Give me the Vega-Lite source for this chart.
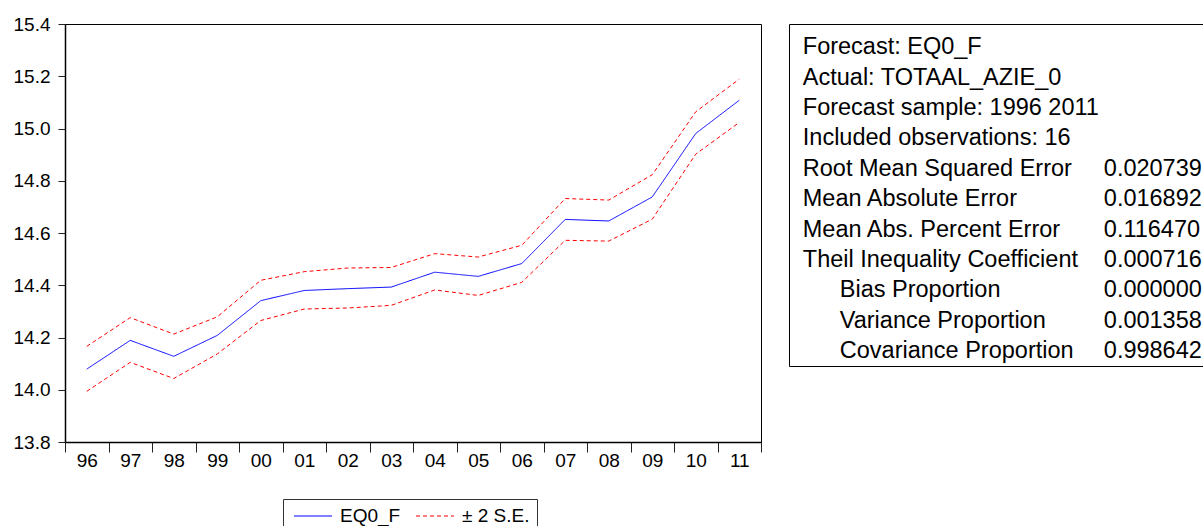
{
  "$schema": "https://vega.github.io/schema/vega-lite/v6.json",
  "padding": {"left": 12, "top": 14, "right": 0, "bottom": 0},
  "autosize": {"type": "pad"},
  "bounds": "flush",
  "spacing": 28,
  "background": "white",
  "datasets": {
    "fc": [
      {"yr": "96", "series": "EQ0_F", "band": "f", "v": 14.079},
      {"yr": "97", "series": "EQ0_F", "band": "f", "v": 14.189},
      {"yr": "98", "series": "EQ0_F", "band": "f", "v": 14.128},
      {"yr": "99", "series": "EQ0_F", "band": "f", "v": 14.208},
      {"yr": "00", "series": "EQ0_F", "band": "f", "v": 14.341},
      {"yr": "01", "series": "EQ0_F", "band": "f", "v": 14.380},
      {"yr": "02", "series": "EQ0_F", "band": "f", "v": 14.387},
      {"yr": "03", "series": "EQ0_F", "band": "f", "v": 14.393},
      {"yr": "04", "series": "EQ0_F", "band": "f", "v": 14.450},
      {"yr": "05", "series": "EQ0_F", "band": "f", "v": 14.434},
      {"yr": "06", "series": "EQ0_F", "band": "f", "v": 14.483},
      {"yr": "07", "series": "EQ0_F", "band": "f", "v": 14.652},
      {"yr": "08", "series": "EQ0_F", "band": "f", "v": 14.646},
      {"yr": "09", "series": "EQ0_F", "band": "f", "v": 14.738},
      {"yr": "10", "series": "EQ0_F", "band": "f", "v": 14.981},
      {"yr": "11", "series": "EQ0_F", "band": "f", "v": 15.108},
      {"yr": "96", "series": "± 2 S.E.", "band": "up", "v": 14.166},
      {"yr": "97", "series": "± 2 S.E.", "band": "up", "v": 14.276},
      {"yr": "98", "series": "± 2 S.E.", "band": "up", "v": 14.213},
      {"yr": "99", "series": "± 2 S.E.", "band": "up", "v": 14.279},
      {"yr": "00", "series": "± 2 S.E.", "band": "up", "v": 14.419},
      {"yr": "01", "series": "± 2 S.E.", "band": "up", "v": 14.452},
      {"yr": "02", "series": "± 2 S.E.", "band": "up", "v": 14.466},
      {"yr": "03", "series": "± 2 S.E.", "band": "up", "v": 14.468},
      {"yr": "04", "series": "± 2 S.E.", "band": "up", "v": 14.521},
      {"yr": "05", "series": "± 2 S.E.", "band": "up", "v": 14.508},
      {"yr": "06", "series": "± 2 S.E.", "band": "up", "v": 14.553},
      {"yr": "07", "series": "± 2 S.E.", "band": "up", "v": 14.732},
      {"yr": "08", "series": "± 2 S.E.", "band": "up", "v": 14.726},
      {"yr": "09", "series": "± 2 S.E.", "band": "up", "v": 14.823},
      {"yr": "10", "series": "± 2 S.E.", "band": "up", "v": 15.064},
      {"yr": "11", "series": "± 2 S.E.", "band": "up", "v": 15.189},
      {"yr": "96", "series": "± 2 S.E.", "band": "lo", "v": 13.994},
      {"yr": "97", "series": "± 2 S.E.", "band": "lo", "v": 14.105},
      {"yr": "98", "series": "± 2 S.E.", "band": "lo", "v": 14.043},
      {"yr": "99", "series": "± 2 S.E.", "band": "lo", "v": 14.137},
      {"yr": "00", "series": "± 2 S.E.", "band": "lo", "v": 14.265},
      {"yr": "01", "series": "± 2 S.E.", "band": "lo", "v": 14.309},
      {"yr": "02", "series": "± 2 S.E.", "band": "lo", "v": 14.313},
      {"yr": "03", "series": "± 2 S.E.", "band": "lo", "v": 14.323},
      {"yr": "04", "series": "± 2 S.E.", "band": "lo", "v": 14.382},
      {"yr": "05", "series": "± 2 S.E.", "band": "lo", "v": 14.361},
      {"yr": "06", "series": "± 2 S.E.", "band": "lo", "v": 14.411},
      {"yr": "07", "series": "± 2 S.E.", "band": "lo", "v": 14.572},
      {"yr": "08", "series": "± 2 S.E.", "band": "lo", "v": 14.569},
      {"yr": "09", "series": "± 2 S.E.", "band": "lo", "v": 14.653},
      {"yr": "10", "series": "± 2 S.E.", "band": "lo", "v": 14.902},
      {"yr": "11", "series": "± 2 S.E.", "band": "lo", "v": 15.023}
    ],
    "stats": [
      {"row": 1, "col": "label", "text": "Forecast: EQ0_F", "indent": false},
      {"row": 2, "col": "label", "text": "Actual: TOTAAL_AZIE_0", "indent": false},
      {"row": 3, "col": "label", "text": "Forecast sample: 1996 2011", "indent": false},
      {"row": 4, "col": "label", "text": "Included observations: 16", "indent": false},
      {"row": 5, "col": "label", "text": "Root Mean Squared Error", "indent": false},
      {"row": 5, "col": "value", "text": "0.020739", "indent": false},
      {"row": 6, "col": "label", "text": "Mean Absolute Error", "indent": false},
      {"row": 6, "col": "value", "text": "0.016892", "indent": false},
      {"row": 7, "col": "label", "text": "Mean Abs. Percent Error", "indent": false},
      {"row": 7, "col": "value", "text": "0.116470", "indent": false},
      {"row": 8, "col": "label", "text": "Theil Inequality Coefficient", "indent": false},
      {"row": 8, "col": "value", "text": "0.000716", "indent": false},
      {"row": 9, "col": "label", "text": "Bias Proportion", "indent": true},
      {"row": 9, "col": "value", "text": "0.000000", "indent": false},
      {"row": 10, "col": "label", "text": "Variance Proportion", "indent": true},
      {"row": 10, "col": "value", "text": "0.001358", "indent": false},
      {"row": 11, "col": "label", "text": "Covariance Proportion", "indent": true},
      {"row": 11, "col": "value", "text": "0.998642", "indent": false}
    ]
  },
  "hconcat": [
    {
      "width": 696,
      "height": 418,
      "data": {"name": "fc"},
      "mark": {"type": "line", "strokeWidth": 1},
      "encoding": {
        "x": {
          "field": "yr", "type": "ordinal",
          "sort": ["96","97","98","99","00","01","02","03","04","05","06","07","08","09","10","11"],
          "scale": {"type": "band", "paddingInner": 0, "paddingOuter": 0},
          "axis": {"title": null, "labelAngle": 0, "tickBand": "extent", "tickSize": 10, "labelPadding": -1}
        },
        "y": {
          "field": "v", "type": "quantitative",
          "scale": {"domain": [13.8, 15.4], "nice": false, "zero": false},
          "axis": {"title": null, "values": [13.8, 14.0, 14.2, 14.4, 14.6, 14.8, 15.0, 15.2, 15.4], "format": ".1f", "tickSize": 7, "labelPadding": 8}
        },
        "color": {
          "field": "series", "type": "nominal",
          "scale": {"domain": ["EQ0_F", "± 2 S.E."], "range": ["#0000ff", "#ff0000"]},
          "legend": {
            "title": null, "orient": "none", "legendX": 218, "legendY": 475, "direction": "horizontal",
            "symbolType": "M-2,0H2", "symbolSize": 361, "symbolStrokeWidth": 1, "symbolOffset": 13,
            "labelOffset": 17, "columnPadding": 11, "labelFontSize": 19, "labelFont": "Liberation Sans", "labelColor": "black",
            "padding": 7, "strokeColor": "#333333", "fillColor": "white"
          }
        },
        "strokeDash": {
          "field": "series", "type": "nominal",
          "scale": {"domain": ["EQ0_F", "± 2 S.E."], "range": [[1, 0], [4, 3]]},
          "legend": {
            "title": null, "orient": "none", "legendX": 218, "legendY": 475, "direction": "horizontal",
            "symbolType": "M-2,0H2", "symbolSize": 361, "symbolStrokeWidth": 1, "symbolOffset": 13,
            "labelOffset": 17, "columnPadding": 11, "labelFontSize": 19, "labelFont": "Liberation Sans", "labelColor": "black",
            "padding": 7, "strokeColor": "#333333", "fillColor": "white"
          }
        },
        "detail": {"field": "band"}
      }
    },
    {
      "width": 416,
      "height": 342,
      "data": {"name": "stats"},
      "layer": [
        {
          "transform": [{"filter": "!datum.indent"}],
          "mark": {"type": "text", "align": "left", "baseline": "alphabetic", "fontSize": 23.5, "font": "Liberation Sans", "color": "black"},
          "encoding": {
            "x": {"field": "col", "type": "nominal", "scale": {"type": "point", "domain": ["label", "value"], "padding": 0.191, "align": 0.12}, "axis": null},
            "y": {"field": "row", "type": "quantitative", "scale": {"domain": [0, 11.26], "nice": false, "zero": true, "reverse": true}, "axis": null},
            "text": {"field": "text"}
          }
        },
        {
          "transform": [{"filter": "datum.indent"}],
          "mark": {"type": "text", "align": "left", "baseline": "alphabetic", "fontSize": 23.5, "font": "Liberation Sans", "color": "black", "dx": 37},
          "encoding": {
            "x": {"field": "col", "type": "nominal", "axis": null},
            "y": {"field": "row", "type": "quantitative", "axis": null},
            "text": {"field": "text"}
          }
        }
      ]
    }
  ],
  "config": {
    "view": {"stroke": "black", "strokeWidth": 1},
    "axis": {
      "grid": false,
      "labelFont": "Liberation Sans",
      "labelFontSize": 19,
      "labelColor": "black",
      "domainColor": "black",
      "domainWidth": 1.5,
      "tickColor": "#222222",
      "tickWidth": 1
    }
  }
}
